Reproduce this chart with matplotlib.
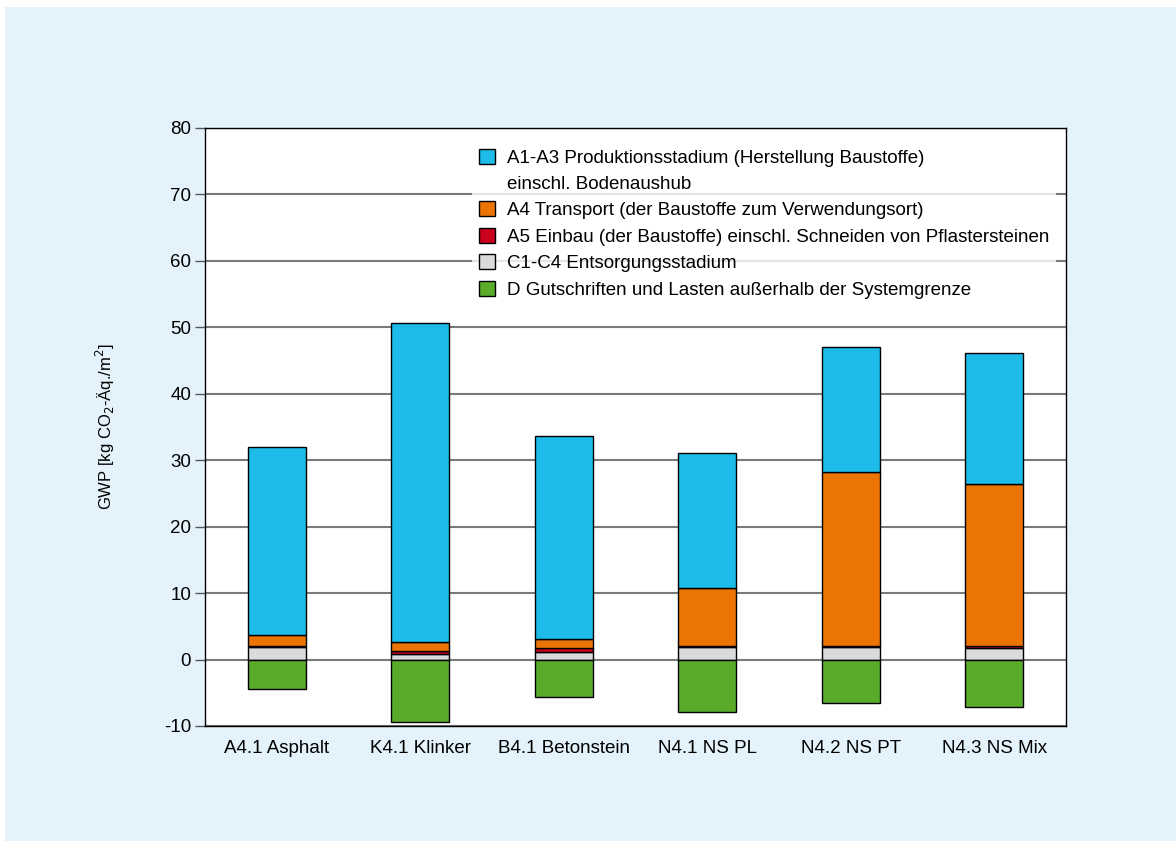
import numpy as np
import matplotlib
matplotlib.use('Agg')
from matplotlib import pyplot as plt
from matplotlib.patches import Patch, Rectangle

plt.rcParams['font.family'] = ['Liberation Sans', 'DejaVu Sans']
plt.rcParams['axes.unicode_minus'] = False

categories = ['A4.1 Asphalt', 'K4.1 Klinker', 'B4.1 Betonstein',
              'N4.1 NS PL', 'N4.2 NS PT', 'N4.3 NS Mix']
c1_c4 = [1.9, 0.9, 1.1, 1.9, 1.9, 1.7]
a5 = [0.2, 0.4, 0.6, 0.2, 0.2, 0.4]
a4 = [1.6, 1.3, 1.4, 8.6, 26.2, 24.3]
a1_a3 = [28.3, 48.0, 30.5, 20.4, 18.75, 19.7]
d = [-4.4, -9.4, -5.6, -7.9, -6.6, -7.2]

labels = ['A1-A3 Produktionsstadium (Herstellung Baustoffe)',
          'einschl. Bodenaushub',
          'A4 Transport (der Baustoffe zum Verwendungsort)',
          'A5 Einbau (der Baustoffe) einschl. Schneiden von Pflastersteinen',
          'C1-C4 Entsorgungsstadium',
          'D Gutschriften und Lasten außerhalb der Systemgrenze']

col_a13 = '#1cbbe8'
col_a4 = '#ec7405'
col_a5 = '#c8001e'
col_c = '#d9dadc'
col_d = '#5aab2a'
bg = '#e4f3fb'

fig = plt.figure(figsize=(11.76, 8.41), dpi=100, facecolor='white')
fig.patches.append(Rectangle((5/1176, 0), 1, 1 - 7/841, transform=fig.transFigure,
                             facecolor=bg, edgecolor='none', zorder=-10))
ax = fig.add_axes([205/1176, 1 - 726/841, 861/1176, 598/841])
ax.set_facecolor('white')

x = np.arange(len(categories))
w = 0.405
kw = dict(width=w, edgecolor='black', linewidth=1.0, zorder=3)
bottom = np.zeros(len(x))
ax.bar(x, c1_c4, bottom=bottom, color=col_c, **kw)
bottom += np.array(c1_c4)
ax.bar(x, a5, bottom=bottom, color=col_a5, **kw)
bottom += np.array(a5)
ax.bar(x, a4, bottom=bottom, color=col_a4, **kw)
bottom += np.array(a4)
ax.bar(x, a1_a3, bottom=bottom, color=col_a13, **kw)
ax.bar(x, d, color=col_d, **kw)

ax.set_xlim(-0.5, len(categories) - 0.5)
ax.set_ylim(-10, 80)
ax.set_yticks(range(-10, 81, 10))
ax.set_xticks(x)
ax.set_xticklabels(categories, fontsize=13.5)
ax.tick_params(axis='y', labelsize=13.5, length=7, width=1, color='#555555', direction='out', pad=3)
ax.tick_params(axis='x', length=0, pad=10)
ax.yaxis.grid(True, color='#7a7a7a', linewidth=1.5, zorder=0)
ax.set_axisbelow(True)
for s in ax.spines.values():
    s.set_color('black')
    s.set_linewidth(1.0)

ax.set_ylabel('GWP [kg CO$_2$-Äq./m$^2$]', fontsize=12, labelpad=34)

handles = [Patch(facecolor=col_a13, edgecolor='black', linewidth=1),
           Patch(facecolor='none', edgecolor='none'),
           Patch(facecolor=col_a4, edgecolor='black', linewidth=1),
           Patch(facecolor=col_a5, edgecolor='black', linewidth=1),
           Patch(facecolor=col_c, edgecolor='black', linewidth=1),
           Patch(facecolor=col_d, edgecolor='black', linewidth=1)]
leg = ax.legend(handles, labels, loc='upper left', bbox_to_anchor=(0.31, 0.978),
                frameon=True, fontsize=13.5, handlelength=0.85, handleheight=0.85,
                handletextpad=0.6, labelspacing=0.45, borderpad=0.4,
                borderaxespad=0)
leg.get_frame().set_facecolor('white')
leg.get_frame().set_edgecolor('none')
leg.get_frame().set_boxstyle('square', pad=0)
leg.set_zorder(5)

fig.savefig('out.png', dpi=100, facecolor=fig.get_facecolor())
